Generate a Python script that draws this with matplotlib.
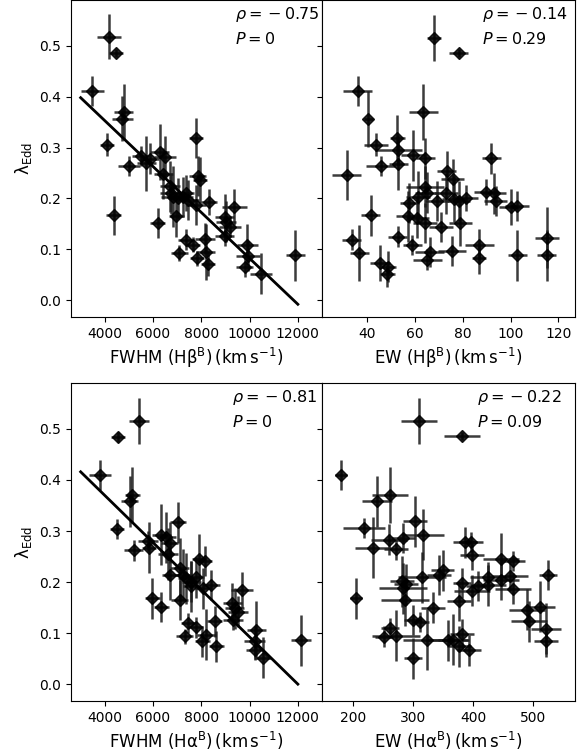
import matplotlib
matplotlib.use('Agg')
import matplotlib.pyplot as plt

# --- FWHM(Hbeta) vs lambda_Edd (top left)
fwhm_hb = [4176, 4473, 3487, 4783, 4729, 4095, 5012, 4365, 5485, 5715,
           5863, 6268, 6498, 6187, 6430, 6700, 6727, 6835, 7038, 7240,
           7348, 7443, 6970, 7780, 7848, 7942, 7780, 8320, 7078, 7348,
           7645, 7820, 8158, 8185, 8280, 8968, 9022, 9198, 9373, 8968,
           9913, 9940, 9805, 10480, 11898]
fwhm_hb_err = [480, 300, 480, 400, 450, 300, 450, 300, 350, 400,
               400, 400, 450, 300, 400, 400, 450, 500, 400, 400,
               350, 450, 300, 300, 350, 300, 400, 350, 350, 300,
               300, 300, 400, 400, 300, 400, 400, 450, 500, 400,
               450, 500, 350, 450, 400]
lam_hb = [0.518, 0.486, 0.411, 0.370, 0.357, 0.306, 0.264, 0.167, 0.283, 0.269,
          0.278, 0.292, 0.282, 0.152, 0.249, 0.224, 0.210, 0.203, 0.200, 0.203,
          0.211, 0.197, 0.165, 0.319, 0.244, 0.237, 0.187, 0.193, 0.093, 0.119,
          0.109, 0.082, 0.121, 0.095, 0.072, 0.163, 0.154, 0.144, 0.183, 0.126,
          0.109, 0.087, 0.066, 0.052, 0.088]
lam_hb_err = [0.044, 0.008, 0.030, 0.055, 0.045, 0.022, 0.020, 0.038, 0.020, 0.054,
              0.030, 0.055, 0.040, 0.030, 0.050, 0.050, 0.040, 0.060, 0.040, 0.040,
              0.035, 0.040, 0.040, 0.040, 0.040, 0.045, 0.040, 0.025, 0.015, 0.020,
              0.015, 0.015, 0.030, 0.055, 0.025, 0.045, 0.040, 0.020, 0.035, 0.020,
              0.040, 0.030, 0.020, 0.040, 0.050]

# --- EW(Hbeta) vs lambda_Edd (top right)
ew_hb = [68.0, 78.2, 35.9, 40.4, 63.5, 52.6, 43.5, 53.0, 59.1, 64.2,
         92.0, 31.3, 45.6, 53.0, 73.3, 75.7, 64.0, 61.2, 64.9, 72.9,
         69.1, 76.1, 78.2, 81.5, 89.7, 93.2, 93.7, 100.0, 102.8, 57.5,
         57.0, 61.0, 64.2, 41.4, 70.8, 79.0, 33.4, 52.7, 58.9, 36.6,
         66.1, 65.2, 75.4, 86.9, 86.9, 102.8, 115.4, 115.1, 45.3, 48.8,
         48.4]
ew_hb_err = [3, 4, 6, 2, 6, 3, 5, 10, 5, 4,
             4, 6, 6, 4, 4, 5, 8, 5, 5, 5,
             5, 5, 5, 5, 5, 5, 5, 5, 5, 4,
             5, 5, 5, 4, 5, 5, 4, 4, 4, 4,
             6, 6, 6, 6, 3, 4, 5, 4, 4, 3,
             3]
lam_ewb = [0.516, 0.486, 0.411, 0.357, 0.370, 0.319, 0.306, 0.295, 0.285, 0.279,
           0.279, 0.246, 0.264, 0.267, 0.254, 0.238, 0.223, 0.203, 0.211, 0.210,
           0.195, 0.199, 0.195, 0.201, 0.213, 0.210, 0.195, 0.183, 0.185, 0.191,
           0.165, 0.162, 0.152, 0.167, 0.144, 0.152, 0.119, 0.125, 0.109, 0.093,
           0.095, 0.080, 0.097, 0.109, 0.082, 0.088, 0.123, 0.088, 0.073, 0.066,
           0.051]
lam_ewb_err = [0.045, 0.008, 0.030, 0.055, 0.055, 0.045, 0.022, 0.030, 0.050, 0.040,
               0.030, 0.050, 0.020, 0.050, 0.040, 0.040, 0.040, 0.050, 0.040, 0.040,
               0.040, 0.045, 0.040, 0.025, 0.025, 0.040, 0.030, 0.035, 0.030, 0.040,
               0.050, 0.040, 0.040, 0.040, 0.030, 0.045, 0.020, 0.020, 0.020, 0.055,
               0.030, 0.020, 0.030, 0.030, 0.030, 0.050, 0.060, 0.050, 0.035, 0.030,
               0.025]

# --- FWHM(Halpha) vs lambda_Edd (bottom left)
fwhm_ha = [5420, 4552, 3793, 5145, 5034, 4510, 5200, 7034, 5793, 5834,
           6345, 6552, 6690, 6620, 6717, 7103, 7241, 7379, 7586, 7765,
           7586, 7103, 5972, 6345, 7903, 8137, 8068, 8413, 7310, 7448,
           7765, 8041, 8206, 8551, 8620, 9282, 9379, 9517, 9696, 9310,
           10274, 10206, 10206, 10551, 12136]
fwhm_ha_err = [400, 300, 450, 300, 350, 300, 400, 350, 400, 300,
               400, 400, 350, 400, 350, 400, 350, 350, 400, 350,
               350, 350, 300, 300, 300, 300, 350, 350, 350, 300,
               300, 300, 400, 300, 300, 400, 400, 400, 450, 400,
               400, 450, 350, 350, 400]
lam_ha = [0.516, 0.484, 0.410, 0.370, 0.358, 0.304, 0.262, 0.317, 0.280, 0.267,
          0.293, 0.288, 0.277, 0.255, 0.214, 0.227, 0.214, 0.207, 0.201, 0.209,
          0.192, 0.165, 0.168, 0.151, 0.245, 0.241, 0.188, 0.194, 0.094, 0.120,
          0.111, 0.084, 0.097, 0.123, 0.074, 0.159, 0.149, 0.142, 0.185, 0.126,
          0.107, 0.084, 0.067, 0.052, 0.086]
lam_ha_err = [0.045, 0.010, 0.030, 0.055, 0.050, 0.020, 0.020, 0.040, 0.020, 0.050,
              0.060, 0.050, 0.040, 0.050, 0.050, 0.060, 0.050, 0.050, 0.040, 0.040,
              0.050, 0.040, 0.040, 0.030, 0.050, 0.030, 0.040, 0.030, 0.015, 0.020,
              0.020, 0.030, 0.050, 0.030, 0.030, 0.040, 0.040, 0.030, 0.035, 0.020,
              0.055, 0.030, 0.020, 0.040, 0.050]

# --- EW(Halpha) vs lambda_Edd (bottom right)
ew_ha = [310, 381, 179, 239, 261, 218, 303, 317, 259, 283,
         233, 271, 386, 397, 399, 447, 466, 349, 343, 314,
         281, 288, 283, 286, 381, 399, 408, 425, 425, 447,
         462, 466, 525, 204, 377, 333, 490, 511, 493, 521,
         521, 261, 299, 311, 251, 272, 323, 358, 366, 382,
         377, 393, 299]
ew_ha_err = [30, 30, 10, 25, 30, 35, 20, 35, 30, 20,
             30, 20, 20, 20, 20, 30, 20, 20, 20, 40,
             20, 20, 40, 40, 15, 30, 20, 30, 30, 30,
             30, 30, 15, 10, 20, 20, 30, 25, 30, 25,
             20, 15, 15, 15, 15, 40, 40, 35, 25, 20,
             20, 20, 15]
lam_ewa = [0.516, 0.486, 0.410, 0.358, 0.370, 0.306, 0.319, 0.293, 0.283, 0.286,
           0.267, 0.264, 0.278, 0.278, 0.253, 0.246, 0.241, 0.223, 0.214, 0.209,
           0.202, 0.196, 0.188, 0.164, 0.198, 0.183, 0.192, 0.210, 0.194, 0.204,
           0.212, 0.187, 0.214, 0.168, 0.163, 0.150, 0.146, 0.152, 0.123, 0.109,
           0.084, 0.110, 0.126, 0.122, 0.093, 0.095, 0.087, 0.086, 0.087, 0.098,
           0.074, 0.066, 0.051]
lam_ewa_err = [0.045, 0.008, 0.030, 0.050, 0.055, 0.020, 0.050, 0.050, 0.030, 0.030,
               0.060, 0.020, 0.030, 0.020, 0.030, 0.050, 0.020, 0.040, 0.040, 0.050,
               0.050, 0.040, 0.050, 0.050, 0.030, 0.030, 0.030, 0.030, 0.040, 0.040,
               0.030, 0.030, 0.030, 0.040, 0.040, 0.030, 0.040, 0.050, 0.040, 0.050,
               0.030, 0.020, 0.030, 0.020, 0.020, 0.050, 0.060, 0.040, 0.050, 0.030,
               0.040, 0.030, 0.040]

# linear fits drawn on the FWHM panels
fit_x = [3000, 12000]
fit_hb_y = [0.398, -0.008]
fit_ha_y = [0.416, 0.0]

stats = [(r'$\rho={}-0.75$', r'$P=0$'),
         (r'$\rho={}-0.14$', r'$P=0.29$'),
         (r'$\rho={}-0.81$', r'$P=0$'),
         (r'$\rho={}-0.22$', r'$P=0.09$')]
text_x = [0.655, 0.632, 0.643, 0.613]

xlabels = [r'FWHM $\rm (H\beta^{B})\,(km\,s^{-1})$',
           r'EW $\rm (H\beta^{B})\,(km\,s^{-1})$',
           r'FWHM $\rm (H\alpha^{B})\,(km\,s^{-1})$',
           r'EW $\rm (H\alpha^{B})\,(km\,s^{-1})$']
xlims = [(2600, 13000), (21, 127), (2600, 13000), (148, 570)]

fig = plt.figure(figsize=(5.83, 7.52), dpi=100)
W, H = 583.0, 752.0
ax_tl = fig.add_axes([71 / W, (H - 317) / H, 251 / W, 317 / H])
ax_tr = fig.add_axes([322 / W, (H - 317) / H, 253 / W, 317 / H], sharey=ax_tl)
ax_bl = fig.add_axes([71 / W, (H - 701) / H, 251 / W, 318 / H])
ax_br = fig.add_axes([322 / W, (H - 701) / H, 253 / W, 318 / H], sharey=ax_bl)
axes = [ax_tl, ax_tr, ax_bl, ax_br]

panels = [(fwhm_hb, lam_hb, fwhm_hb_err, lam_hb_err),
          (ew_hb, lam_ewb, ew_hb_err, lam_ewb_err),
          (fwhm_ha, lam_ha, fwhm_ha_err, lam_ha_err),
          (ew_ha, lam_ewa, ew_ha_err, lam_ewa_err)]

for i, ax in enumerate(axes):
    x, y, xe, ye = panels[i]
    ax.errorbar(x, y, xerr=xe, yerr=ye, fmt='D', color='black', ms=6,
                ecolor='#1a1a1a', elinewidth=1.8, capsize=0, alpha=0.85)
    ax.set_xlim(*xlims[i])
    ax.set_ylim(-0.033, 0.59)
    ax.set_yticks([0.0, 0.1, 0.2, 0.3, 0.4, 0.5])
    ax.set_xlabel(xlabels[i], fontsize=12)
    ax.tick_params(labelsize=10)
    ax.text(text_x[i], 0.953, stats[i][0], transform=ax.transAxes,
            fontsize=11.5, va='center', ha='left')
    ax.text(text_x[i], 0.877, stats[i][1], transform=ax.transAxes,
            fontsize=11.5, va='center', ha='left')

ax_tl.plot(fit_x, fit_hb_y, color='black', lw=2)
ax_bl.plot(fit_x, fit_ha_y, color='black', lw=2)

for ax in [ax_tl, ax_bl]:
    ax.set_ylabel(r'$\rm \lambda_{Edd}$', fontsize=12)
for ax in [ax_tr, ax_br]:
    ax.tick_params(labelleft=False)

fig.savefig('out.png', dpi=100)
